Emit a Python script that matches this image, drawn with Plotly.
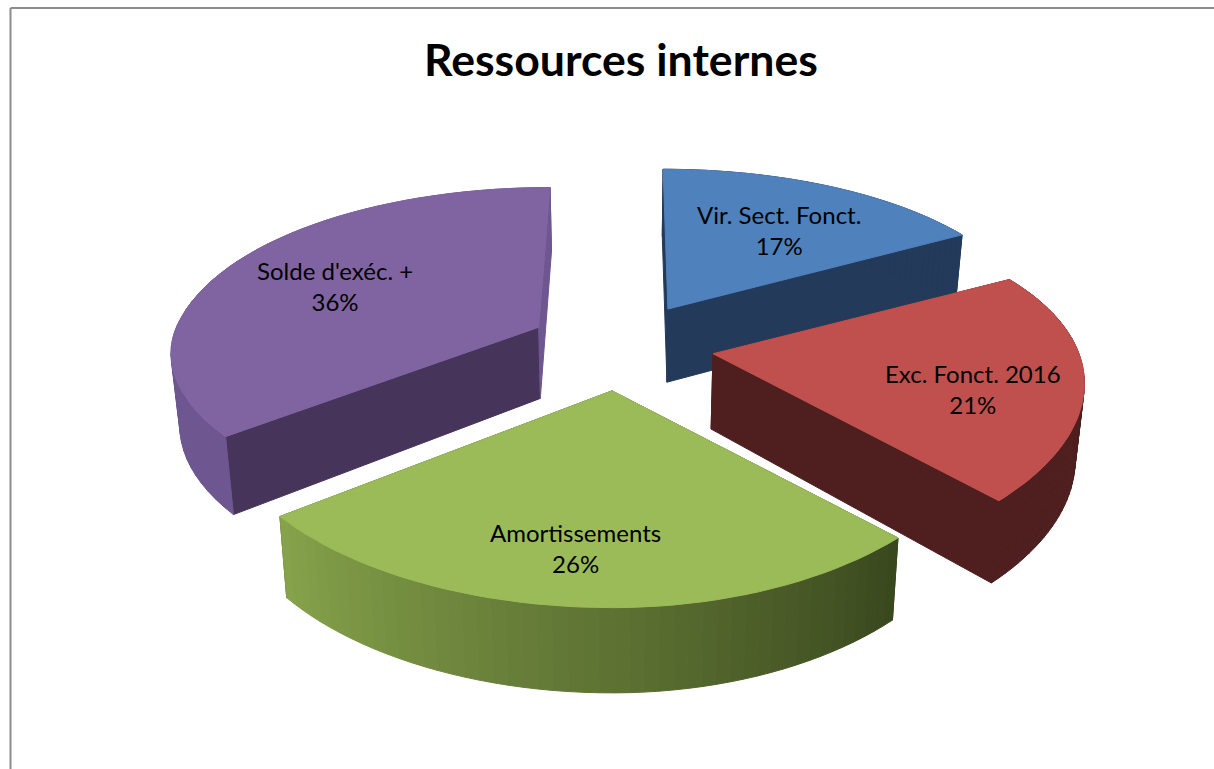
import math
import plotly.graph_objects as go

# ---- data ----
categories = ["Vir. Sect. Fonct.", "Exc. Fonct. 2016", "Amortissements", "Solde d'exéc. +"]
shares = [17, 21, 26, 36]
title_text = "Ressources internes"

# ---- styles ----
top_colors = ["#4f81bd", "#c0504d", "#9bbb59", "#8064a2"]
wall_colors = ["#243a5a", "#4f1f1f", "#3b4a1f", "#46345a"]
side_colors = ["#243a5a", "#4f1f1f", None, "#6e5690"]
label_px = [(779, 230), (973, 389), (575, 548), (335, 286)]
draw_order = [0, 3, 1, 2]

# ---- perspective pie model (pixel space) ----
CX, CY, A, B, KX, KY, KZ = 620.0, 345.0, 366.0, 170.0, 0.17, 0.216, 0.12
EXPLODE, DEPTH, SHRINK = 0.25, 75.0, 0.98
# per-slice fine tuning of the projection
nudge = [(3, -1), (2, 2), (-2, 1), (0, 0)]
left_scale = [1.0, 1.0, 1.05, 0.99]
front_scale = [1.0, 1.0, 1.0, 0.87]
depth_scale = [1.0, 1.0, 1.0, 0.96]
shear = [0.10, 0.0, 0.0, 0.14]


def apex(i, mid, low=False):
    X, Y = EXPLODE * math.sin(mid), EXPLODE * math.cos(mid)
    x = CX + A * X / (1 + KX * Y) + nudge[i][0]
    y = CY - B * Y / (1 + KY * Y) + nudge[i][1]
    if low:
        return CX + (x - CX) * SHRINK, y + DEPTH * depth_scale[i] / (1 + KZ * Y)
    return x, y


def rim_point(i, theta, mid, low=False):
    ax, ay = apex(i, mid)
    X, Y = math.sin(theta), math.cos(theta)
    px = A * X / (1 + KX * Y)
    if X < 0:
        px *= left_scale[i]
    if Y > 0:
        px -= (ax - CX) * Y * shear[i]
    py = -B * Y / (1 + KY * Y)
    if py > 0:
        py *= front_scale[i]
    x, y = ax + px, ay + py
    if low:
        return CX + (x - CX) * SHRINK, y + DEPTH * depth_scale[i] / (1 + KZ * Y)
    return x, y


def poly(points, color):
    xs = [p[0] for p in points] + [points[0][0]]
    ys = [p[1] for p in points] + [points[0][1]]
    return go.Scatter(
        x=xs, y=ys, mode="lines", fill="toself", fillcolor=color,
        line=dict(color=color, width=1),
        hoverinfo="skip", showlegend=False,
    )


def mix(c1, c2, t):
    a = [int(c1[i:i + 2], 16) for i in (1, 3, 5)]
    b = [int(c2[i:i + 2], 16) for i in (1, 3, 5)]
    return "#%02x%02x%02x" % tuple(round(u + (v - u) * t) for u, v in zip(a, b))


total = sum(shares)
bounds = [0.0]
for s in shares:
    bounds.append(bounds[-1] + 2 * math.pi * s / total)

fig = go.Figure()
for i in draw_order:
    t0, t1 = bounds[i], bounds[i + 1]
    mid = (t0 + t1) / 2
    n = 48
    thetas = [t0 + (t1 - t0) * j / n for j in range(n + 1)]

    # cut faces
    for t in (t0, t1):
        face_col = side_colors[3] if (i == 3 and t == t1) else wall_colors[i]
        fig.add_trace(poly([apex(i, mid), rim_point(i, t, mid), rim_point(i, t, mid, True), apex(i, mid, True)], face_col))

    # outer rim, in small strips
    for j in range(n):
        a, b = thetas[j], thetas[j + 1]
        if side_colors[i] is None:
            color = mix("#3a481e", "#86a34b", j / (n - 1))
        else:
            color = side_colors[i]
        fig.add_trace(poly([rim_point(i, a, mid), rim_point(i, b, mid), rim_point(i, b, mid, True), rim_point(i, a, mid, True)], color))

    # top surface
    fig.add_trace(poly([apex(i, mid)] + [rim_point(i, t, mid) for t in thetas], top_colors[i]))

annotations = [
    dict(x=x, y=y, xref="x", yref="y", text=f"{c}<br>{s}%", showarrow=False,
         font=dict(family="Lato, Carlito, sans-serif", size=24, color="#000000"), align="center")
    for c, s, (x, y) in zip(categories, shares, label_px)
]
annotations.append(dict(
    x=621, y=58, xref="x", yref="y", text=f"<b>{title_text}</b>", showarrow=False,
    font=dict(family="Lato, Carlito, sans-serif", size=44.6, color="#000000"),
))

fig.update_layout(
    width=1214, height=769, margin=dict(l=0, r=0, t=0, b=0),
    paper_bgcolor="white", plot_bgcolor="white", showlegend=False,
    xaxis=dict(range=[0, 1214], visible=False, fixedrange=True),
    yaxis=dict(range=[769, 0], visible=False, fixedrange=True),
    annotations=annotations,
    shapes=[
        dict(type="line", xref="x", yref="y", x0=10.5, y0=8, x1=1214, y1=8, line=dict(color="#8c8c8c", width=2)),
        dict(type="line", xref="x", yref="y", x0=10.5, y0=8, x1=10.5, y1=769, line=dict(color="#8c8c8c", width=2)),
    ],
)
fig.write_html("out.html", config={"displayModeBar": False},
               post_script="document.body.style.margin='0';document.documentElement.style.overflow='hidden';")
